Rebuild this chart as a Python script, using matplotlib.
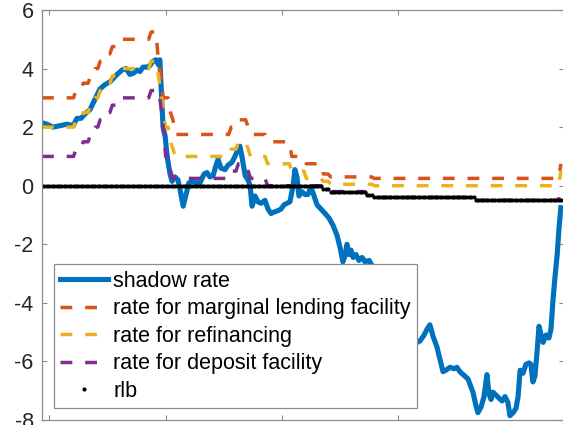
import numpy as np
import pandas as pd
import matplotlib
matplotlib.use('Agg')
import matplotlib.pyplot as plt

plt.rcParams['font.family'] = ['Liberation Sans', 'DejaVu Sans']
plt.rcParams['axes.unicode_minus'] = False

# ECB key rates, month in which each change took effect (percent)
change_month = ['2004-10', '2005-12', '2006-03', '2006-06', '2006-08', '2006-10',
                '2006-12', '2007-03', '2007-06', '2008-07', '2008-10', '2008-11',
                '2008-12', '2009-01', '2009-03', '2009-04', '2009-05', '2011-04',
                '2011-07', '2011-11', '2011-12', '2012-07', '2013-05', '2013-11',
                '2014-06', '2014-09', '2015-12', '2016-03', '2019-09', '2022-08']
mlf_rate  = [3.00, 3.25, 3.50, 3.75, 4.00, 4.25, 4.50, 4.75, 5.00, 5.25, 4.25, 3.75,
             3.00, 3.00, 2.50, 2.25, 1.75, 2.00, 2.25, 2.00, 1.75, 1.50, 1.00, 0.75,
             0.40, 0.30, 0.30, 0.25, 0.25, 0.75]
refi_rate = [2.00, 2.25, 2.50, 2.75, 3.00, 3.25, 3.50, 3.75, 4.00, 4.25, 3.75, 3.25,
             2.50, 2.00, 1.50, 1.25, 1.00, 1.25, 1.50, 1.25, 1.00, 0.75, 0.50, 0.25,
             0.15, 0.05, 0.05, 0.00, 0.00, 0.50]
dep_rate  = [1.00, 1.25, 1.50, 1.75, 2.00, 2.25, 2.50, 2.75, 3.00, 3.25, 3.25, 2.75,
             2.00, 1.00, 0.50, 0.25, 0.25, 0.50, 0.75, 0.50, 0.25, 0.00, 0.00, 0.00,
             -0.10, -0.20, -0.30, -0.40, -0.50, 0.00]

# lower bound
rlb_month = ['2004-10', '2014-06', '2014-09', '2015-12', '2016-03', '2019-09']
rlb_rate  = [0.0, -0.1, -0.2, -0.3, -0.4, -0.5]

# shadow rate (decimal year, percent)
shadow_t = [2004.75, 2004.92, 2005.13, 2005.37, 2005.61, 2005.82, 2005.95, 2006.09,
            2006.23, 2006.40, 2006.57, 2006.74, 2006.91, 2007.09, 2007.33, 2007.50,
            2007.64, 2007.77, 2007.91, 2008.01, 2008.12, 2008.22, 2008.36, 2008.46,
            2008.56, 2008.67, 2008.74, 2008.80, 2008.91, 2008.98, 2009.05, 2009.15,
            2009.22, 2009.32, 2009.42, 2009.49, 2009.60, 2009.70, 2009.80, 2009.90,
            2010.04, 2010.18, 2010.32, 2010.42, 2010.52, 2010.63, 2010.73, 2010.80,
            2010.90, 2011.04, 2011.14, 2011.28, 2011.38, 2011.49, 2011.55, 2011.62,
            2011.73, 2011.83, 2011.90, 2011.97, 2012.07, 2012.17, 2012.28, 2012.41,
            2012.52, 2012.62, 2012.72, 2012.86, 2012.96, 2013.07, 2013.17, 2013.27,
            2013.38, 2013.44, 2013.51, 2013.58, 2013.68, 2013.79, 2013.89, 2013.99,
            2014.10, 2014.20, 2014.34, 2014.48, 2014.61, 2014.75, 2014.89, 2014.99,
            2015.09, 2015.16, 2015.23, 2015.30, 2015.37, 2015.44, 2015.54, 2015.64,
            2015.75, 2015.85, 2015.99, 2016.19, 2016.37, 2016.54, 2016.71, 2016.88,
            2017.05, 2017.22, 2017.40, 2017.53, 2017.64, 2017.74, 2017.88, 2017.98,
            2018.08, 2018.19, 2018.32, 2018.43, 2018.53, 2018.63, 2018.77, 2018.91,
            2019.01, 2019.11, 2019.22, 2019.39, 2019.56, 2019.66, 2019.73, 2019.84,
            2019.94, 2020.04, 2020.11, 2020.18, 2020.25, 2020.35, 2020.45, 2020.56,
            2020.66, 2020.76, 2020.83, 2020.94, 2021.04, 2021.11, 2021.18, 2021.28,
            2021.38, 2021.49, 2021.55, 2021.62, 2021.69, 2021.76, 2021.83, 2021.90,
            2021.97, 2022.07, 2022.17, 2022.24, 2022.31, 2022.38, 2022.45, 2022.52,
            2022.58]
shadow_r = [2.15, 2.10, 2.00, 2.05, 2.10, 2.05, 2.30, 2.30,
            2.45, 2.60, 2.95, 3.30, 3.45, 3.55, 3.80, 3.95,
            4.00, 3.80, 3.85, 3.95, 3.90, 4.05, 4.05, 4.10,
            4.25, 4.30, 4.15, 4.30, 2.00, 1.70, 1.00, 0.40,
            0.15, 0.30, 0.20, -0.10, -0.70, -0.30, 0.10, 0.15,
            0.10, 0.10, 0.40, 0.45, 0.30, 0.35, 0.70, 0.90,
            0.60, 0.55, 0.70, 0.80, 1.00, 1.25, 1.35, 1.00,
            0.35, 0.20, 0.00, -0.70, -0.35, -0.55, -0.60, -0.50,
            -0.80, -0.95, -0.90, -0.85, -0.80, -0.65, -0.60, -0.55,
            0.00, 0.55, 0.30, -0.35, -0.20, -0.30, -0.30, -0.05,
            -0.35, -0.65, -0.80, -0.95, -1.10, -1.35, -1.70, -2.10,
            -2.60, -2.40, -2.00, -2.35, -2.20, -2.45, -2.35, -2.55,
            -2.45, -2.60, -2.55, -2.90, -3.30, -3.70, -4.00, -4.40,
            -4.60, -5.00, -5.20, -5.35, -5.35, -5.30, -5.10, -4.90,
            -4.75, -5.15, -5.50, -5.95, -6.35, -6.30, -6.20, -6.25,
            -6.20, -6.35, -6.45, -6.60, -7.05, -7.50, -7.75, -7.55,
            -7.20, -6.45, -7.10, -7.30, -7.05, -7.15, -7.25, -7.35,
            -7.20, -7.40, -7.85, -7.75, -7.60, -7.20, -6.30, -6.40,
            -6.10, -6.05, -6.10, -6.70, -6.50, -5.70, -4.80, -5.10,
            -5.35, -5.10, -5.20, -4.90, -3.90, -3.10, -2.40, -1.40,
            -0.75]

months = pd.period_range('2004-10', '2022-08', freq='M')
t = months.year + (months.month - 1) / 12


def monthly(idx, vals):
    s = pd.Series(vals, index=pd.PeriodIndex(idx, freq='M'))
    return s.reindex(months).ffill().values


mlf = monthly(change_month, mlf_rate)
refi = monthly(change_month, refi_rate)
dep = monthly(change_month, dep_rate)
rlb = monthly(rlb_month, rlb_rate)

fig = plt.figure(figsize=(5.63, 4.25), dpi=100)
ax = fig.add_axes([42 / 563, 5 / 425, 522 / 563, 410 / 425])

ax.plot(shadow_t, shadow_r, color='#0072BD', lw=3.7, solid_joinstyle='round',
        label='shadow rate')
ax.plot(t, mlf, '--', color='#D95319', lw=2.5, dashes=(3.4, 3.7),
        label='rate for marginal lending facility')
ax.plot(t, refi, '--', color='#EDB120', lw=2.5, dashes=(3.4, 3.7),
        label='rate for refinancing')
ax.plot(t, dep, '--', color='#7E2F8E', lw=2.5, dashes=(3.4, 3.7),
        label='rate for deposit facility')
ax.plot(t, rlb, 'o', color='k', ms=3.0, mew=0, label='rlb')

ax.set_xlim(2004.75, 2004.75 + 522 / 29.1)
ax.set_ylim(-8, 6)
ax.set_yticks([-8, -6, -4, -2, 0, 2, 4, 6])
ax.set_xticks([2005, 2009, 2013, 2017])
ax.set_xticklabels([])

for sp in ax.spines.values():
    sp.set_color('#8c8c8c')
    sp.set_linewidth(0.9)
ax.tick_params(direction='in', length=3.6, width=0.8, color='#8c8c8c',
               top=True, right=True, labelsize=15.5, labelcolor='#262626', pad=6)

leg = ax.legend(loc='lower left', bbox_to_anchor=(12 / 522, 12 / 410),
                borderaxespad=0, fancybox=False, edgecolor='#8c8c8c', framealpha=1,
                prop={'size': 15.5}, handlelength=2.2, handletextpad=0.25,
                labelspacing=0.3, borderpad=0.3)
leg.get_frame().set_linewidth(0.9)

fig.savefig('out.png', dpi=100)
